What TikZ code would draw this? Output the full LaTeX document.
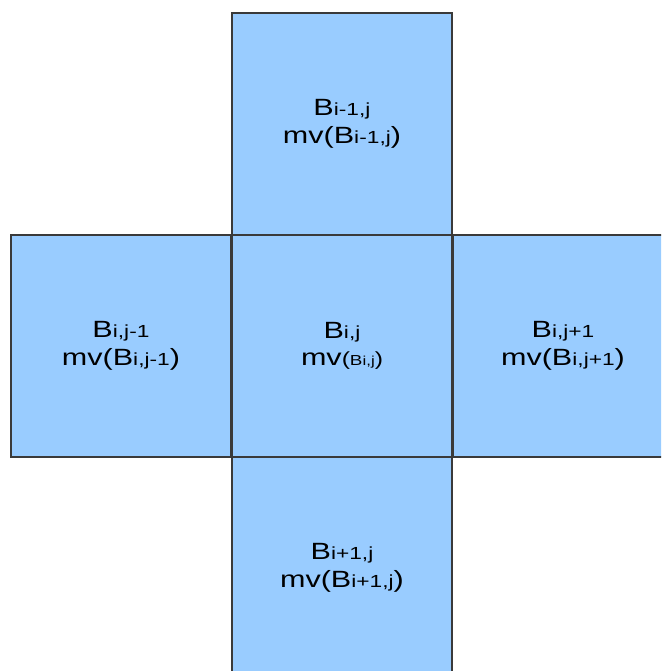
\documentclass[tikz,border=0pt]{standalone}
\usepackage{fontspec}
\setmainfont{Liberation Sans}[FakeStretch=1.3]
\definecolor{cellfill}{HTML}{99CCFF}
\definecolor{celldraw}{HTML}{3A3A3A}
\newcommand{\sbs}[1]{{\fontsize{17.5}{17.5}\selectfont #1}}
\newcommand{\ssbs}[1]{{\fontsize{13}{13}\selectfont #1}}
\newcommand{\smb}[1]{{\fontsize{14.5}{14.5}\selectfont #1}}
\newcommand{\pars}[1]{{\fontsize{19}{19}\selectfont #1}}
\begin{document}
\begin{tikzpicture}[x=1pt,y=-1pt,
  cell/.style={draw=celldraw, line width=1.3pt, fill=cellfill,
    minimum width=220pt, minimum height=222pt, inner sep=0pt,
    align=center, font=\fontsize{23.5}{27.5}\selectfont}]
\useasboundingbox (0,0) rectangle (661,671);
\clip (0,0) rectangle (661,671);
\node[cell] (top) at (342,124) {B\sbs{i-1,j}\\mv(B\sbs{i-1,j})};
\node[cell] (left) at (121,346) {B\sbs{i,j-1}\\mv(B\sbs{i,j-1})};
\node[cell] (center) at (342,346) {B\sbs{i,j}\\mv\pars{(}\smb{B}\ssbs{i,j}\pars{)}};
\node[cell] (right) at (563,346) {B\sbs{i,j+1}\\mv(B\sbs{i,j+1})};
\node[cell] (bottom) at (342,568) {B\sbs{i+1,j}\\mv(B\sbs{i+1,j})};
\end{tikzpicture}
\end{document}
